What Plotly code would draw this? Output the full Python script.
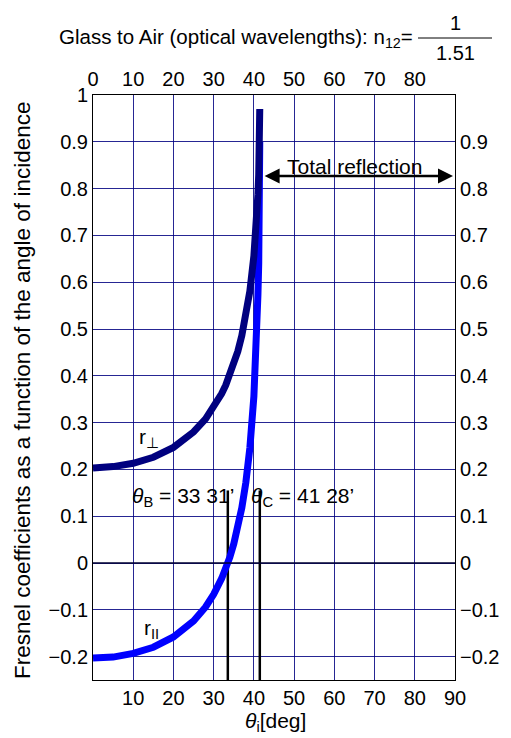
import plotly.graph_objects as go

# ---- data ----
theta = [0, 5, 10, 15, 20, 25, 28, 30, 32, 33, 34, 35, 36, 37, 38, 39, 40, 40.5, 41, 41.2, 41.3, 41.4, 41.46]
r_perp = [0.203, 0.206, 0.213, 0.226, 0.247, 0.280, 0.308, 0.332, 0.362, 0.380, 0.401, 0.424, 0.452,
          0.486, 0.527, 0.581, 0.656, 0.708, 0.787, 0.830, 0.865, 0.911, 0.970]
r_par = [-0.203, -0.201, -0.193, -0.180, -0.158, -0.124, -0.094, -0.067, -0.033, -0.012, 0.012, 0.041,
         0.075, 0.118, 0.172, 0.246, 0.356, 0.440, 0.572, 0.640, 0.716, 0.808, 0.900]

brewster_deg = 33.52
critical_deg = 41.47
marker_top = 0.155
reflection_span = [42.3, 89.5]
reflection_level = 0.827

x_bottom_ticks = [10, 20, 30, 40, 50, 60, 70, 80, 90]
x_top_ticks = [0, 10, 20, 30, 40, 50, 60, 70, 80]
y_left_ticks = [1, 0.9, 0.8, 0.7, 0.6, 0.5, 0.4, 0.3, 0.2, 0.1, 0, -0.1, -0.2]
y_right_ticks = [0.9, 0.8, 0.7, 0.6, 0.5, 0.4, 0.3, 0.2, 0.1, 0, -0.1, -0.2]


def fmt(v):
    if v == 0:
        return "0"
    if v == 1:
        return "1"
    s = f"{abs(v):.1f}"
    return ("\u2212" if v < 0 else "") + s


FONT = "Liberation Sans, Arial, Helvetica, sans-serif"
GRID = "rgba(0,0,128,0.85)"
TICK = 20
TXT = 21

W, H = 511, 738
PL, PR, PT, PB = 93, 455, 95, 680


def px(xp):
    return (xp - PL) / (PR - PL)


def py(yp):
    return (PB - yp) / (PB - PT)


fig = go.Figure()

# vertical markers (Brewster and critical angles)
for ang in [brewster_deg, critical_deg]:
    fig.add_trace(go.Scatter(x=[ang, ang], y=[marker_top, -0.25], mode="lines",
                             line=dict(color="black", width=2.5), showlegend=False, hoverinfo="skip"))

fig.add_trace(go.Scatter(x=theta, y=r_par, mode="lines", line=dict(color="#0000ff", width=7),
                         showlegend=False))
fig.add_trace(go.Scatter(x=theta, y=r_perp, mode="lines", line=dict(color="#00007f", width=7),
                         showlegend=False))

# invisible traces to activate the secondary axes
fig.add_trace(go.Scatter(x=[0], y=[0], xaxis="x2", yaxis="y", mode="markers",
                         marker=dict(opacity=0), showlegend=False, hoverinfo="skip"))
fig.add_trace(go.Scatter(x=[0], y=[0], xaxis="x", yaxis="y2", mode="markers",
                         marker=dict(opacity=0), showlegend=False, hoverinfo="skip"))

axis_common = dict(showline=True, linecolor="black", linewidth=1, ticks="", zeroline=False,
                   automargin=False, tickfont=dict(family=FONT, size=TICK, color="black"))

fig.update_layout(
    width=W, height=H,
    margin=dict(l=PL, r=W - PR, t=PT, b=H - PB),
    paper_bgcolor="white", plot_bgcolor="white",
    font=dict(family=FONT, size=TXT, color="black"),
    xaxis=dict(range=[0, 90], tickvals=x_bottom_ticks, ticktext=[str(v) for v in x_bottom_ticks],
               showgrid=True, gridcolor=GRID, gridwidth=1, **axis_common),
    xaxis2=dict(range=[0, 90], overlaying="x", side="top", tickvals=x_top_ticks,
                ticktext=[str(v) for v in x_top_ticks], showgrid=False, **axis_common),
    yaxis=dict(range=[-0.25, 1], tickvals=y_left_ticks, ticktext=[fmt(v) for v in y_left_ticks],
               showgrid=True, gridcolor=GRID, gridwidth=1, **axis_common),
    yaxis2=dict(range=[-0.25, 1], overlaying="y", side="right", tickvals=y_right_ticks,
                ticktext=[fmt(v) for v in y_right_ticks], showgrid=False, **axis_common),
)

# zero line
fig.add_shape(type="line", xref="x", yref="y", x0=0, x1=90, y0=0, y1=0,
              line=dict(color="#000030", width=1.5))

# axis titles
fig.add_annotation(xref="paper", yref="paper", x=px(22), y=py(391), xanchor="center", yanchor="middle",
                   textangle=-90,
                   text="Fresnel coefficients as a function of the angle of incidence",
                   showarrow=False, font=dict(family=FONT, size=22.5))
fig.add_annotation(xref="paper", yref="paper", x=px(275), y=py(722), xanchor="center", yanchor="middle",
                   text="<i>θ</i><sub>i</sub>[deg]", showarrow=False, font=dict(family=FONT, size=TXT))

# title with fraction
fig.add_annotation(xref="paper", yref="paper", x=px(415), y=py(38), xanchor="right", yanchor="middle",
                   text="Glass to Air (optical wavelengths): n<sub>12</sub>=", showarrow=False,
                   font=dict(family=FONT, size=20.5))
fig.add_annotation(xref="paper", yref="paper", x=px(455), y=py(23), xanchor="center", yanchor="middle",
                   text="1", showarrow=False, font=dict(family=FONT, size=20))
fig.add_annotation(xref="paper", yref="paper", x=px(455), y=py(53), xanchor="center", yanchor="middle",
                   text="1.51", showarrow=False, font=dict(family=FONT, size=20))
fig.add_shape(type="line", xref="paper", yref="paper", x0=px(418), x1=px(492), y0=py(38), y1=py(38),
              line=dict(color="black", width=1))

# curve labels
fig.add_annotation(x=13.8, y=0.267, text="r<sub>⊥</sub>", showarrow=False, font=dict(size=TXT))
fig.add_annotation(x=14.5, y=-0.14, text="r<sub>II</sub>", showarrow=False, font=dict(size=TXT))

# angle annotations
fig.add_annotation(x=9.3, y=0.141, xanchor="left", yanchor="middle",
                   text="<i>θ</i><sub>B</sub> = 33 31’", showarrow=False, font=dict(size=TXT))
fig.add_annotation(x=38.9, y=0.141, xanchor="left", yanchor="middle",
                   text="<i>θ</i><sub>C</sub> = 41 28’", showarrow=False, font=dict(size=TXT))

# total reflection arrow
fig.add_annotation(x=reflection_span[1], y=reflection_level, ax=reflection_span[0], ay=reflection_level,
                   xref="x", yref="y", axref="x", ayref="y", text="", showarrow=True,
                   arrowhead=2, arrowside="end+start", arrowsize=1.2, arrowwidth=2.5, arrowcolor="black")
fig.add_annotation(x=65, y=reflection_level, yanchor="bottom",
                   text="Total reflection", showarrow=False, font=dict(size=TXT), yshift=-4)

fig.write_html("out.html")
